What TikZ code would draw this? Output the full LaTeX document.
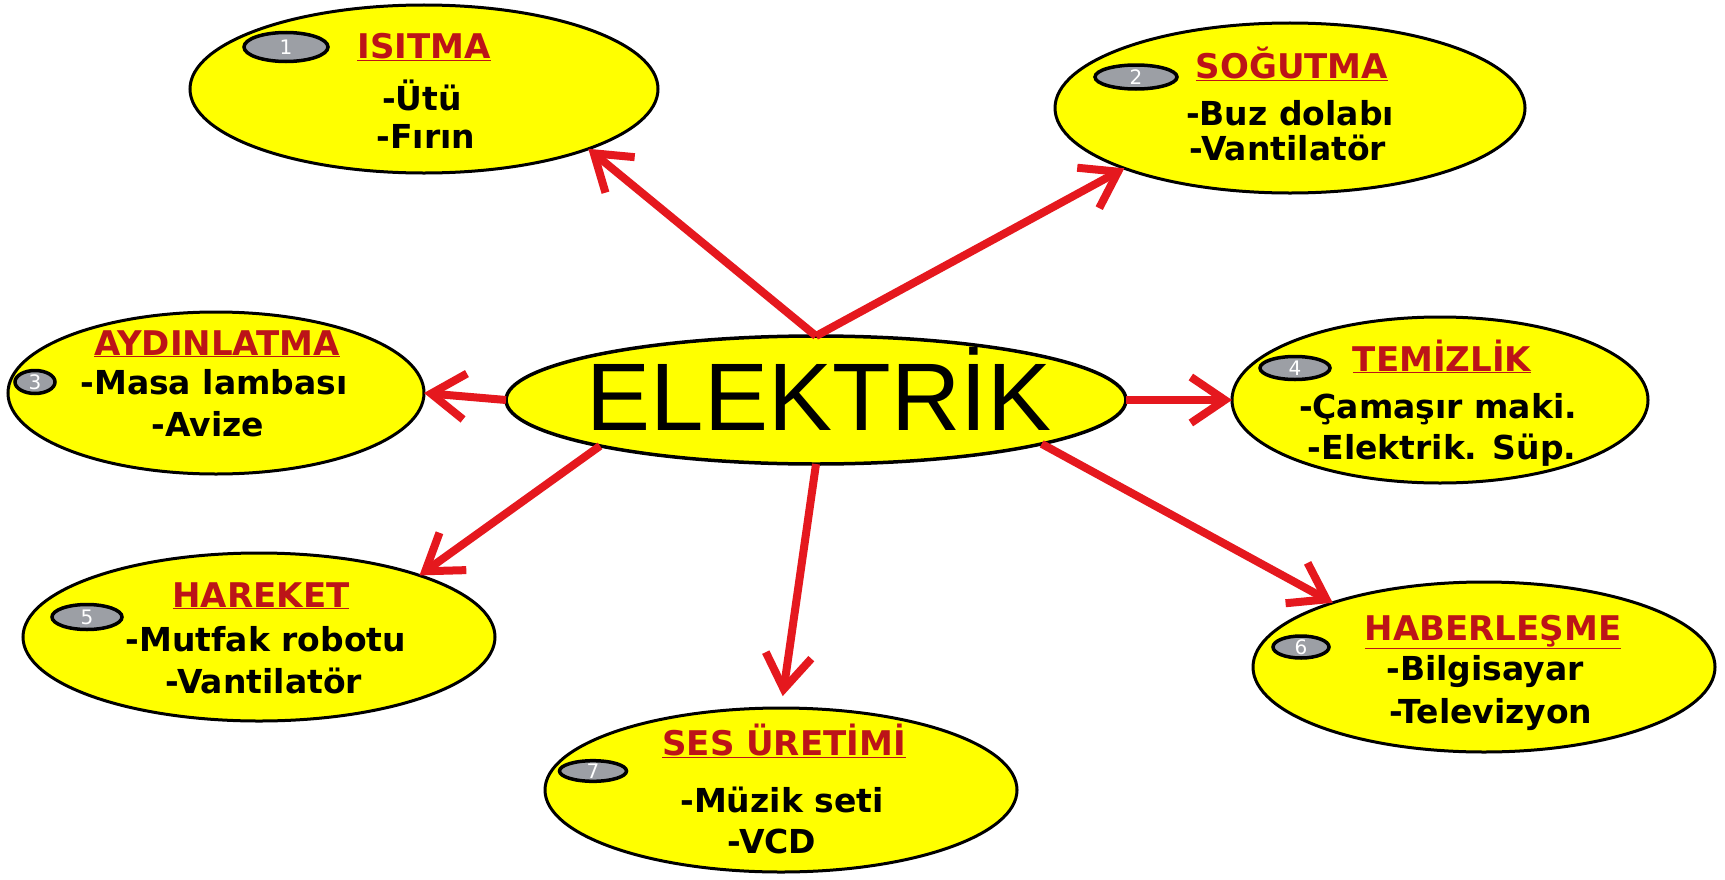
\documentclass[tikz,border=0pt]{standalone}
\usepackage{fontspec}
\setmainfont{DejaVu Sans}
\newfontfamily\ekbigfont{Liberation Sans}
\definecolor{ekYellow}{HTML}{FFFF00}
\definecolor{ekRed}{HTML}{E5181E}
\definecolor{ekTitle}{HTML}{BC1418}
\definecolor{ekGrey}{HTML}{9C9FA5}
\usetikzlibrary{arrows.meta,shapes.geometric}

\begin{document}
\begin{tikzpicture}[x=1bp, y=-1bp,
  topic/.style={ellipse, draw=black, line width=3bp, fill=ekYellow, inner sep=0pt, outer sep=0pt},
  badge/.style={ellipse, draw=black, line width=3.5bp, fill=ekGrey, inner sep=0pt, outer sep=0pt,
    text=white, font=\fontsize{20bp}{20bp}\selectfont},
  title/.style={anchor=base, text=ekTitle, font=\bfseries\fontsize{34bp}{40bp}\selectfont},
  entry/.style={anchor=base, font=\bfseries\fontsize{33bp}{40bp}\selectfont},
  link/.style={draw=ekRed, line width=8bp, -{Straight Barb[length=34bp,width=46bp]}}]

  % Page
  \useasboundingbox (0,0) rectangle (1725,879);
  \fill[white] (0,0) rectangle (1725,879);

  % Centre: ELEKTRIK
  \node[topic, line width=3.5bp, minimum width=620bp, minimum height=128bp] (elek) at (816,400) {};
  \node[anchor=base, font=\ekbigfont\fontsize{96bp}{96bp}\selectfont] (elekText) at (819,430) {ELEKTRİK};

  % 1: ISITMA, top left
  \node[topic, minimum width=468bp, minimum height=168bp] (isitma) at (424,89) {};
  \node[badge, minimum width=84bp, minimum height=29bp] (isitmaNo) at (286,47) {1};
  \node[title] (isitmaHead) at (424,58) {\underline{ISITMA}};
  \node[entry] (isitmaA) at (422,110) {-Ütü};
  \node[entry] (isitmaB) at (426,148) {-Fırın};

  % 2: SOGUTMA, top right
  \node[topic, minimum width=470bp, minimum height=170bp] (sogutma) at (1290,108) {};
  \node[badge, minimum width=82bp, minimum height=24bp] (sogutmaNo) at (1136,77) {2};
  \node[title] (sogutmaHead) at (1292,78) {\underline{SOĞUTMA}};
  \node[entry] (sogutmaA) at (1290,125) {-Buz dolabı};
  \node[entry] (sogutmaB) at (1288,160) {-Vantilatör};

  % 3: AYDINLATMA, left
  \node[topic, minimum width=416bp, minimum height=162bp] (aydin) at (216,393) {};
  \node[badge, minimum width=40bp, minimum height=23bp] (aydinNo) at (35,382) {3};
  \node[title] (aydinHead) at (217,355) {\underline{AYDINLATMA}};
  \node[entry] (aydinA) at (214,394) {-Masa lambası};
  \node[entry] (aydinB) at (208,436) {-Avize};

  % 4: TEMIZLIK, right
  \node[topic, minimum width=416bp, minimum height=166bp] (temiz) at (1440,400) {};
  \node[badge, minimum width=70bp, minimum height=23bp] (temizNo) at (1295,368) {4};
  \node[title] (temizHead) at (1442,371) {\underline{TEMİZLİK}};
  \node[entry] (temizA) at (1438,418) {-Çamaşır maki.};
  \node[entry] (temizB) at (1442,459) {-Elektrik. Süp.};

  % 5: HAREKET, bottom left
  \node[topic, minimum width=472bp, minimum height=168bp] (hareket) at (259,637) {};
  \node[badge, minimum width=70bp, minimum height=25bp] (hareketNo) at (87,617) {5};
  \node[title] (hareketHead) at (261,607) {\underline{HAREKET}};
  \node[entry] (hareketA) at (266,651) {-Mutfak robotu};
  \node[entry] (hareketB) at (264,693) {-Vantilatör};

  % 6: HABERLESME, bottom right
  \node[topic, minimum width=462bp, minimum height=170bp] (haber) at (1484,667) {};
  \node[badge, minimum width=56bp, minimum height=22bp] (haberNo) at (1301,647) {6};
  \node[title] (haberHead) at (1493,640) {\underline{HABERLEŞME}};
  \node[entry] (haberA) at (1485,680) {-Bilgisayar};
  \node[entry] (haberB) at (1491,723) {-Televizyon};

  % 7: SES URETIMI, bottom
  \node[topic, minimum width=472bp, minimum height=164bp] (ses) at (781,790) {};
  \node[badge, minimum width=67bp, minimum height=19bp] (sesNo) at (593,771) {7};
  \node[title] (sesHead) at (784,755) {\underline{SES ÜRETİMİ}};
  \node[entry] (sesA) at (782,812) {-Müzik seti};
  \node[entry] (sesB) at (772,853) {-VCD};

  % Arrows out of the centre
  \draw[link] (elek.north) -- (isitma.-20);
  \draw[link] (elek.north) -- (sogutma.200);
  \draw[link] (elek.west) -- (aydin.east);
  \draw[link] (elek.east) -- (temiz.west);
  \draw[link] (elek.192) -- (hareket.21);
  \draw[link, shorten >=12bp] (elek.south) -- (ses.north);
  \draw[link] (elek.-11) -- (haber.157);

\end{tikzpicture}
\end{document}
